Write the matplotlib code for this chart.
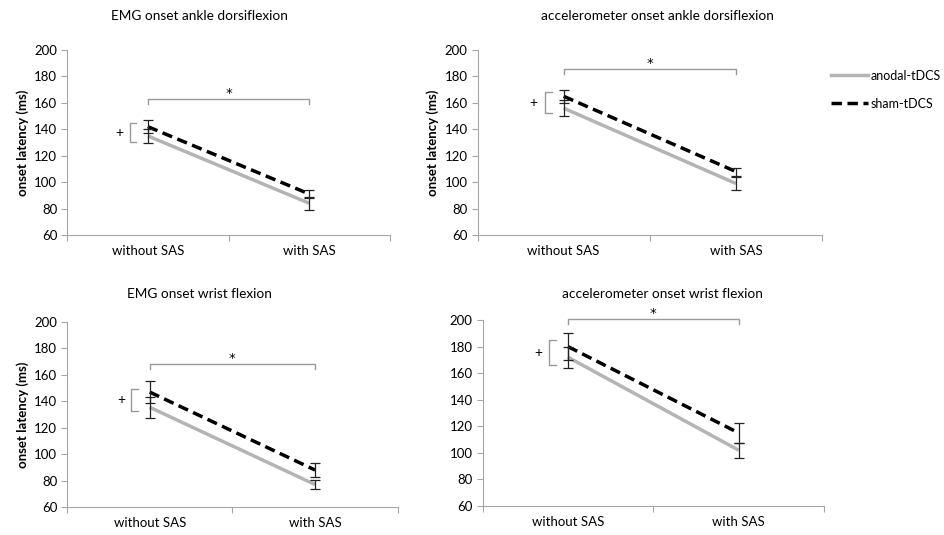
import matplotlib.pyplot as plt
from matplotlib.lines import Line2D

plt.rcParams['font.family'] = ['Lato', 'DejaVu Sans']

conditions = ['without SAS', 'with SAS']
series_names = ['anodal-tDCS', 'sham-tDCS']

titles = ['EMG onset ankle dorsiflexion', 'accelerometer onset ankle dorsiflexion',
          'EMG onset wrist flexion', 'accelerometer onset wrist flexion']

# mean onset latency (ms) per panel: [without SAS, with SAS]
anodal_mean = [[135, 84], [156, 99], [135.5, 77], [172, 102]]
anodal_err = [[5.5, 5], [6, 5], [8, 3.5], [8, 5.5]]
sham_mean = [[142, 91], [165, 108], [147, 88], [180, 115]]
sham_err = [[5, 3], [5, 3], [8.5, 5], [10, 7.5]]

# significance bracket (*) height and the "+" bracket span
star_level = [163, 186, 168.5, 201]
plus_span = [[130.5, 144.5], [152, 168.5], [132.5, 149.5], [166, 185]]

ylabels = [True, True, True, False]

axes_rect = [
    [0.0709, 0.5607, 0.342, 0.3458],
    [0.5053, 0.5607, 0.3646, 0.3458],
    [0.0709, 0.0523, 0.350, 0.3458],
    [0.5106, 0.0542, 0.3614, 0.3477],
]
xmax = [1.86, 2.0, 1.88, 2.0]
title_y = [0.97, 0.97, 0.45, 0.45]

gray = '#b4b4b4'
spine = '#a6a6a6'

fig = plt.figure(figsize=(9.45, 5.35), dpi=100)

for i in range(4):
    ax = fig.add_axes(axes_rect[i])
    x = [0.5, 1.5]
    ax.plot(x, anodal_mean[i], color=gray, lw=2.5, solid_capstyle='butt', zorder=2)
    ax.plot(x, sham_mean[i], color='black', lw=2.5, ls=(0, (3, 1.6)), zorder=3)
    ax.errorbar(x, anodal_mean[i], yerr=anodal_err[i], fmt='none', ecolor='#222222',
                elinewidth=0.9, capsize=3.5, capthick=0.9, zorder=4)
    ax.errorbar(x, sham_mean[i], yerr=sham_err[i], fmt='none', ecolor='#222222',
                elinewidth=0.9, capsize=3.5, capthick=0.9, zorder=4)

    ax.set_xlim(0, xmax[i])
    ax.set_ylim(60, 200)
    ax.set_yticks(range(60, 201, 20))
    ax.set_xticks([0, 1, 2])
    ax.set_xticklabels([])
    ax.set_xticks(x, minor=True)
    ax.set_xticklabels(conditions, minor=True)
    ax.tick_params(axis='x', which='minor', length=0, pad=7, labelsize=9.5)
    ax.tick_params(axis='x', which='major', length=4, color=spine)
    ax.tick_params(axis='y', length=4, color=spine, labelsize=9.5, pad=3)
    for s in ['top', 'right']:
        ax.spines[s].set_visible(False)
    for s in ['left', 'bottom']:
        ax.spines[s].set_color(spine)

    if ylabels[i]:
        ax.set_ylabel('onset latency (ms)', fontsize=9.5, fontweight='bold', labelpad=4)

    # significance bracket
    lv = star_level[i]
    ax.plot([0.5, 0.5, 1.5, 1.5], [lv - 4, lv, lv, lv - 4], color='#999999', lw=1,
            clip_on=False)
    ax.text(1.0, lv + 4, '*', ha='center', va='center', fontsize=9.5,
            family='DejaVu Sans', clip_on=False)

    # "+" bracket
    lo, hi = plus_span[i]
    ax.plot([0.43, 0.39, 0.39, 0.43], [lo, lo, hi, hi], color='#999999', lw=1)
    ax.text(0.35, (lo + hi) / 2, '+', ha='right', va='center', fontsize=10)

    fig.text(axes_rect[i][0] + 0.14 + (0.05 if i % 2 else 0), title_y[i], titles[i],
             ha='center', va='center', fontsize=9.8)

handles = [Line2D([], [], color=gray, lw=2.5),
           Line2D([], [], color='black', lw=2.5, ls=(0, (3, 1.6)))]
fig.legend(handles, series_names, loc='upper left', bbox_to_anchor=(0.879, 0.87),
           frameon=False, fontsize=9, handlelength=3.0, handletextpad=0.2,
           labelspacing=1.3, borderaxespad=0, borderpad=0)

fig.savefig('out.png', dpi=100)
